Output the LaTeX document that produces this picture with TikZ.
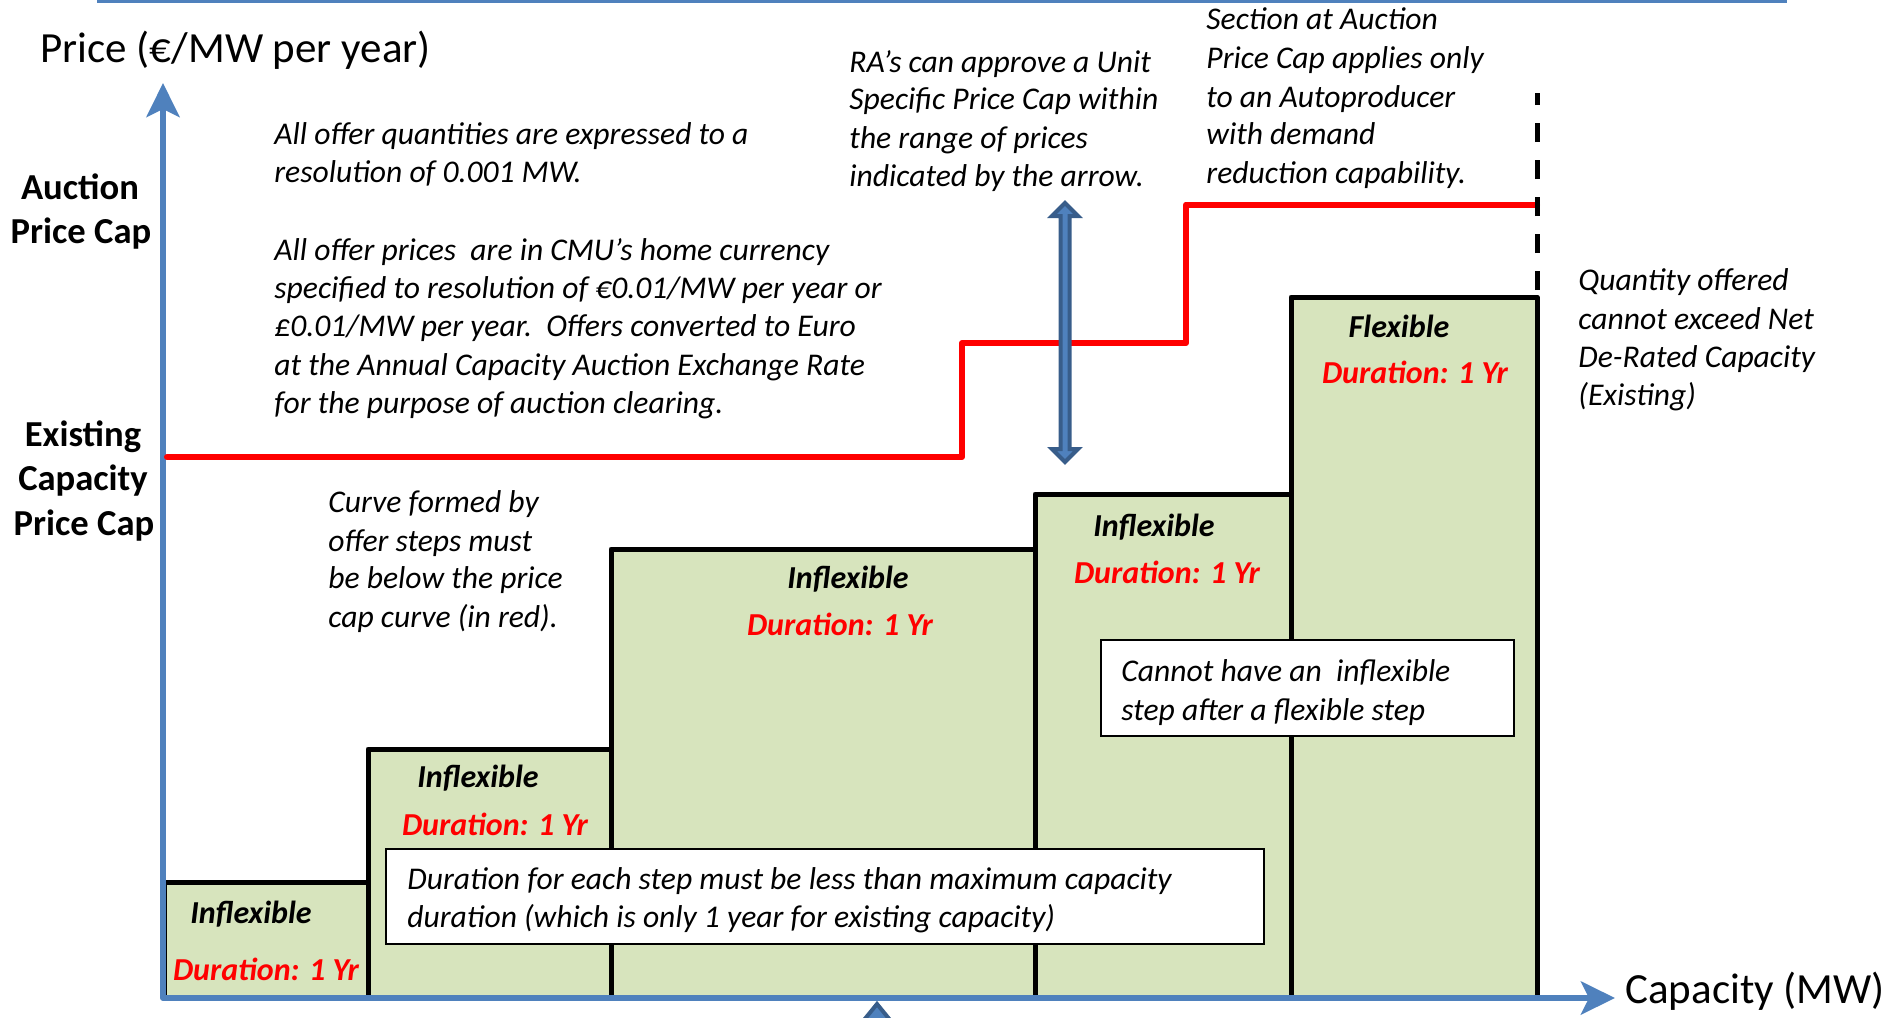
\documentclass[tikz,border=0pt]{standalone}
\usepackage{fontspec}
\setmainfont{Carlito}
\usetikzlibrary{arrows.meta}
\definecolor{axisblue}{HTML}{4F81BD}
\definecolor{darkblue}{HTML}{385D8A}
\definecolor{stepgreen}{HTML}{D7E4BD}
\definecolor{capred}{HTML}{FF0000}
\begin{document}
\begin{tikzpicture}[x=0.5pt,y=-0.5pt,
  stepbox/.style={fill=stepgreen, draw=black, line width=2.5pt, line join=round},
  axisline/.style={draw=axisblue, line width=3pt, line join=round,
     arrows={Stealth[length=17pt,width=16.5pt,inset=4pt]-Stealth[length=17pt,width=16.5pt,inset=4pt]}},
  capline/.style={draw=capred, line width=3pt, line join=round, line cap=round},
  limitline/.style={draw=black, line width=2.5pt, dash pattern=on 9.5pt off 9pt},
  blockarrow/.style={fill=axisblue, draw=darkblue, line width=2pt},
  body/.style={font=\fontsize{15.8}{19.3}\selectfont\itshape, inner sep=0pt, anchor=base west},
  steplbl/.style={font=\fontsize{16}{19}\selectfont\bfseries\itshape, inner sep=0pt, anchor=base},
  durlbl/.style={steplbl, text=capred},
  axlbl/.style={font=\fontsize{21.5}{26}\selectfont, inner sep=0pt, anchor=base west},
  caplbl/.style={font=\fontsize{18.3}{22}\selectfont\bfseries, inner sep=0pt, anchor=base},
  note/.style={draw=black, line width=1pt, fill=white, inner sep=0pt}
]
\useasboundingbox (0,0) rectangle (1893,1017);

% top rule
\draw[axisblue, line width=1.5pt] (97,1.5) -- (1787,1.5);

% steps
\draw[stepbox] (164,882) rectangle (368,998);
\draw[stepbox] (368,749) rectangle (611,998);
\draw[stepbox] (611,549) rectangle (1035,998);
\draw[stepbox] (1035,494) rectangle (1291,998);
\draw[stepbox] (1291,297) rectangle (1537,998);

% axes
\coordinate (O) at (163,998);
\coordinate (ytip) at (163,83);
\coordinate (xtip) at (1615,998);
\draw[axisline] (ytip) -- (O) -- (xtip);

% price cap curve
\draw[capline] (167,457) -- (962,457) -- (962,343) -- (1186,343) -- (1186,204.5) -- (1537,204.5);

% dashed limit
\coordinate (dbot) at (1537,290);
\coordinate (dtop) at (1537,93);
\draw[limitline] (dbot) -- (dtop);

% double block arrow
\filldraw[blockarrow] (1065,203) -- (1078,216) -- (1069.5,216) -- (1069.5,449) -- (1078,449)
  -- (1065,462) -- (1052,449) -- (1060.5,449) -- (1060.5,216) -- (1052,216) -- cycle;

% bottom partial arrow
\begin{scope}
\clip (0,0) rectangle (1893,1017);
\filldraw[blockarrow] (877,1004) -- (899,1031) -- (855,1031) -- cycle;
\end{scope}

% boxes
\node[note, minimum width=206.5pt, minimum height=48pt] (box1) at (1307.5,688) {};
\node[body] (box1a) at (1121,681) {Cannot have an\ \ inflexible};
\node[body] (box1b) at (1121,720) {step after a flexible step};
\node[note, minimum width=439pt, minimum height=47.5pt] (box2) at (825,896.5) {};
\node[body] (box2a) at (407,889) {Duration for each step must be less than maximum capacity};
\node[body] (box2b) at (407,927.5) {duration (which is only 1 year for existing capacity)};

% axis labels
\node[axlbl] (ylab) at (40,62) {Price (€/MW per year)};
\node[axlbl] (xlab) at (1625,1003) {Capacity (MW)};

% cap labels
\node[caplbl] (auc1) at (80,199) {Auction};
\node[caplbl] (auc2) at (81,243) {Price Cap};
\node[caplbl] (ex1) at (83,446) {Existing};
\node[caplbl] (ex2) at (83,490) {Capacity};
\node[caplbl] (ex3) at (84,535) {Price Cap};

% step labels
\node[steplbl] (s1a) at (251,923) {Inflexible};
\node[durlbl]  (s1b) at (266,980) {Duration: 1 Yr};
\node[steplbl] (s2a) at (478,787) {Inflexible};
\node[durlbl]  (s2b) at (495,835) {Duration: 1 Yr};
\node[steplbl] (s3a) at (848,588) {Inflexible};
\node[durlbl]  (s3b) at (840,635) {Duration: 1 Yr};
\node[steplbl] (s4a) at (1154,536) {Inflexible};
\node[durlbl]  (s4b) at (1167,583) {Duration: 1 Yr};
\node[steplbl] (s5a) at (1399,337) {Flexible};
\node[durlbl]  (s5b) at (1415,383) {Duration: 1 Yr};

% block A
\node[body] (a1) at (274,144) {All offer quantities are expressed to a};
\node[body] (a2) at (274,182.6) {resolution of 0.001 MW.};
% block B
\node[body] (b1) at (274,260) {All offer prices\ \ are in CMU’s home currency};
\node[body] (b2) at (274,298.4) {specified to resolution of €0.01/MW per year or};
\node[body] (b3) at (274,336.8) {£0.01/MW per year.\ \ Offers converted to Euro};
\node[body] (b4) at (274,375.2) {at the Annual Capacity Auction Exchange Rate};
\node[body] (b5) at (274,413.6) {for the purpose of auction clearing.};
% block C
\node[body] (c1) at (328,512) {Curve formed by};
\node[body] (c2) at (328,551) {offer steps must};
\node[body] (c3) at (328,588) {be below the price};
\node[body] (c4) at (328,627) {cap curve (in red).};
% block D
\node[body] (d1) at (849,72) {RA’s can approve a Unit};
\node[body] (d2) at (849,109) {Specific Price Cap within};
\node[body] (d3) at (849,148) {the range of prices};
\node[body] (d4) at (849,186) {indicated by the arrow.};
% block E
\node[body] (e1) at (1206,29) {Section at Auction};
\node[body] (e2) at (1206,68) {Price Cap applies only};
\node[body] (e3) at (1206,107) {to an Autoproducer};
\node[body] (e4) at (1206,144) {with demand};
\node[body] (e5) at (1206,183) {reduction capability.};
% block F
\node[body] (f1) at (1578,290) {Quantity offered};
\node[body] (f2) at (1578,329) {cannot exceed Net};
\node[body] (f3) at (1578,367) {De-Rated Capacity};
\node[body] (f4) at (1578,405) {(Existing)};
\end{tikzpicture}
\end{document}
